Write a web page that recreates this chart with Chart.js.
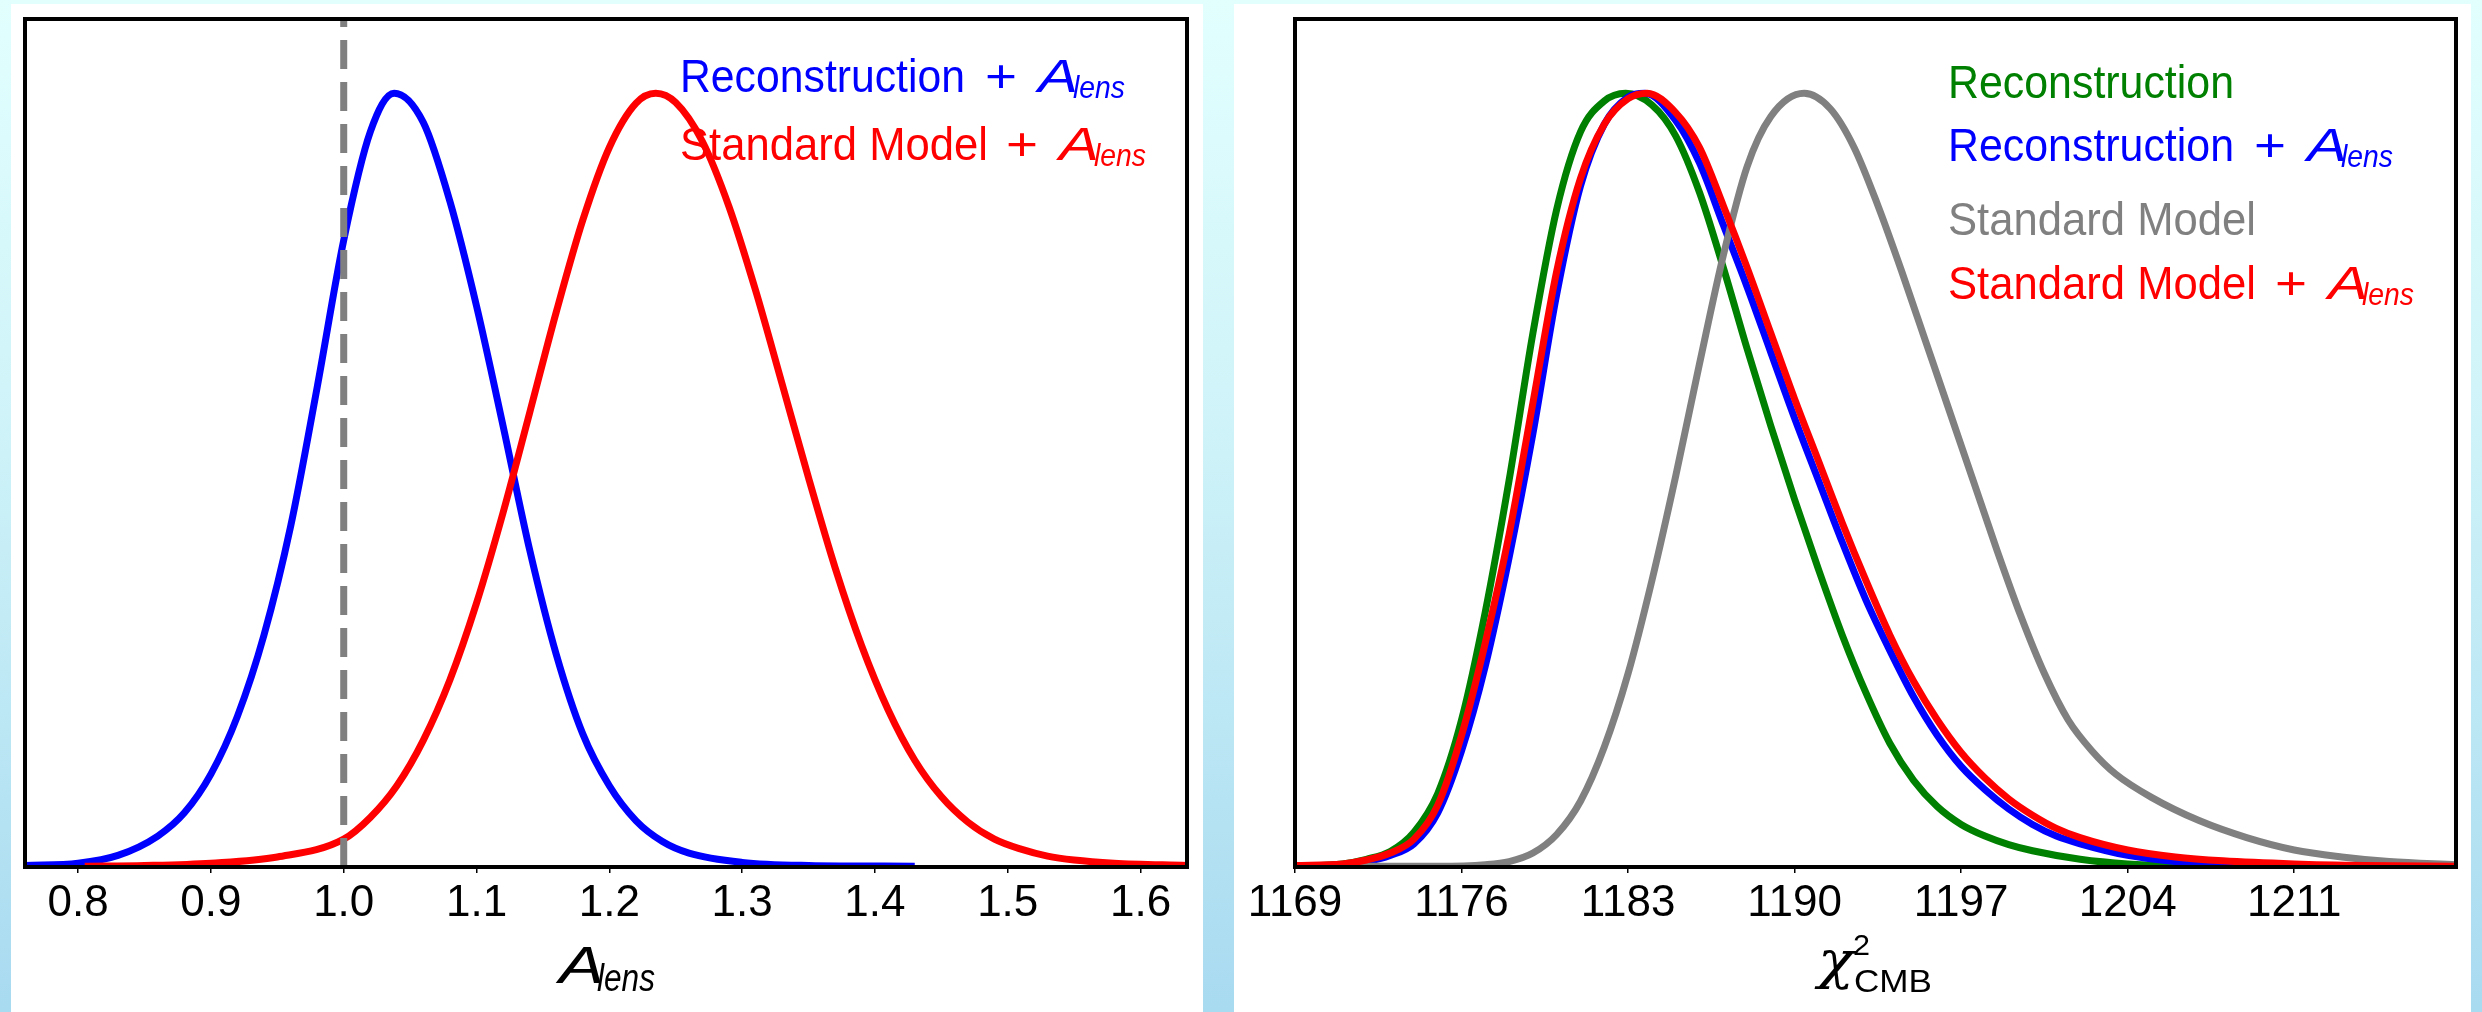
<!DOCTYPE html>
<html>
<head>
<meta charset="utf-8">
<script src="https://cdn.jsdelivr.net/npm/chart.js@4.4.1/dist/chart.umd.min.js"></script>
<style>
html, body { margin: 0; padding: 0; }
body {
    width: 2482px; height: 1012px; position: relative; overflow: hidden;
    background: linear-gradient(to bottom, #e2fffe 0%, #cdf2f8 45%, #a8daf0 100%);
}
.panel { position: absolute; top: 4px; height: 1008px; background: #fff; }
#left-panel { left: 11px; width: 1192px; }
#right-panel { left: 1234px; width: 1237px; }
canvas { display: block; }
</style>
</head>
<body>
<div class="panel" id="left-panel"><canvas id="left-chart" width="1192" height="1008"></canvas></div>
<div class="panel" id="right-panel"><canvas id="right-chart" width="1237" height="1008"></canvas></div>
<script>
// ---- left panel: A_lens posteriors ----
const leftTicks = [0.8, 0.9, 1.0, 1.1, 1.2, 1.3, 1.4, 1.5, 1.6];
const leftTickLabels = ['0.8', '0.9', '1.0', '1.1', '1.2', '1.3', '1.4', '1.5', '1.6'];
const leftRange = [0.76, 1.635];
const refLineX = 1.0;

const reconALensX = [0.76, 0.80, 0.83, 0.86, 0.88, 0.90, 0.92, 0.94, 0.96, 0.98, 1.00, 1.02, 1.038, 1.06, 1.08, 1.10, 1.12, 1.14, 1.16, 1.18, 1.20, 1.22, 1.24, 1.26, 1.30, 1.35, 1.43];
const reconALensY = [0.002, 0.005, 0.015, 0.040, 0.070, 0.120, 0.195, 0.300, 0.440, 0.620, 0.810, 0.950, 1.000, 0.962, 0.860, 0.725, 0.570, 0.410, 0.275, 0.172, 0.105, 0.060, 0.033, 0.018, 0.006, 0.002, 0.001];

const stdALensX = [0.805, 0.85, 0.90, 0.95, 1.00, 1.02, 1.04, 1.06, 1.08, 1.10, 1.12, 1.14, 1.16, 1.18, 1.20, 1.22, 1.235, 1.25, 1.27, 1.29, 1.31, 1.33, 1.35, 1.37, 1.39, 1.41, 1.43, 1.45, 1.47, 1.49, 1.51, 1.53, 1.55, 1.58, 1.635];
const stdALensY = [0.001, 0.002, 0.005, 0.013, 0.036, 0.064, 0.105, 0.164, 0.242, 0.341, 0.458, 0.587, 0.717, 0.836, 0.930, 0.987, 1.000, 0.988, 0.938, 0.854, 0.746, 0.625, 0.503, 0.387, 0.286, 0.203, 0.138, 0.091, 0.058, 0.036, 0.023, 0.014, 0.009, 0.005, 0.002];

// ---- right panel: chi^2_CMB posteriors ----
const rightTicks = [1169, 1176, 1183, 1190, 1197, 1204, 1211];
const rightTickLabels = ['1169', '1176', '1183', '1190', '1197', '1204', '1211'];
const rightRange = [1169, 1217.8];

const reconX = [1169, 1171, 1172, 1173, 1174, 1175, 1176, 1177, 1178, 1179, 1180, 1181, 1182, 1182.9, 1184, 1185, 1186, 1187, 1188, 1189, 1190, 1191, 1192, 1193, 1194, 1195, 1196, 1197, 1198, 1199, 1200, 1202, 1204, 1207];
const reconY = [0.001, 0.004, 0.010, 0.020, 0.045, 0.095, 0.190, 0.330, 0.500, 0.690, 0.850, 0.950, 0.990, 1.000, 0.985, 0.945, 0.872, 0.775, 0.670, 0.570, 0.475, 0.385, 0.300, 0.225, 0.160, 0.112, 0.078, 0.055, 0.040, 0.029, 0.021, 0.010, 0.004, 0.001];

const reconALensRX = [1169, 1171, 1172, 1173, 1174, 1175, 1176, 1177, 1178, 1179, 1180, 1181, 1182, 1183, 1183.7, 1185, 1186, 1187, 1188, 1189, 1190, 1191, 1192, 1193, 1194, 1195, 1196, 1197, 1198, 1199, 1200, 1201, 1202, 1204, 1206, 1208, 1212];
const reconALensRY = [0.001, 0.003, 0.007, 0.015, 0.030, 0.070, 0.150, 0.260, 0.400, 0.560, 0.740, 0.880, 0.960, 0.995, 1.000, 0.965, 0.910, 0.830, 0.750, 0.665, 0.580, 0.500, 0.420, 0.345, 0.280, 0.220, 0.170, 0.130, 0.100, 0.075, 0.055, 0.040, 0.030, 0.015, 0.007, 0.003, 0.001];

const stdX = [1169, 1175, 1177, 1178, 1179, 1180, 1181, 1182, 1183, 1184, 1185, 1186, 1187, 1188, 1189, 1190.4, 1191.5, 1192.5, 1193.5, 1194.5, 1195.5, 1196.5, 1197.5, 1198.5, 1199.5, 1200.5, 1201.5, 1202.5, 1203.5, 1205, 1207, 1209, 1211, 1213, 1215, 1217.8];
const stdY = [0.001, 0.001, 0.003, 0.007, 0.018, 0.042, 0.085, 0.155, 0.250, 0.370, 0.505, 0.650, 0.790, 0.905, 0.970, 1.000, 0.980, 0.930, 0.855, 0.770, 0.680, 0.590, 0.500, 0.410, 0.325, 0.250, 0.190, 0.150, 0.120, 0.090, 0.060, 0.038, 0.022, 0.013, 0.007, 0.003];

const stdALensRX = [1169, 1171, 1172, 1173, 1174, 1175, 1176, 1177, 1178, 1179, 1180, 1181, 1182, 1183, 1183.8, 1185, 1186, 1187, 1188, 1189, 1190, 1191, 1192, 1193, 1194, 1195, 1196, 1197, 1198, 1199, 1200, 1201, 1202, 1204, 1206, 1208, 1211, 1214, 1217.8];
const stdALensRY = [0.002, 0.004, 0.009, 0.018, 0.036, 0.080, 0.170, 0.290, 0.430, 0.600, 0.770, 0.890, 0.960, 0.993, 1.000, 0.975, 0.930, 0.855, 0.775, 0.690, 0.605, 0.525, 0.445, 0.370, 0.300, 0.240, 0.190, 0.148, 0.115, 0.088, 0.067, 0.050, 0.038, 0.022, 0.013, 0.008, 0.004, 0.002, 0.001];

const yTop = 1.096;

const BLUE = '#0000ff', RED = '#ff0000', GREEN = '#008000', GREY = '#808080';
const SANS = '"Liberation Sans", Arial, sans-serif';
const SERIF = '"DejaVu Serif", "Liberation Serif", serif';

function pts(xs, ys) {
    return xs.map(function (x, i) { return { x: x, y: ys[i] }; });
}

function curve(xs, ys, color, order) {
    return {
        data: pts(xs, ys),
        borderColor: color,
        borderWidth: 7,
        pointRadius: 0,
        fill: false,
        cubicInterpolationMode: 'monotone',
        order: order
    };
}

// draw a piece of text squeezed/stretched to a given width (the plot font is a narrow TeX sans)
function putText(ctx, r, offX, offY) {
    ctx.save();
    ctx.font = r.font;
    ctx.fillStyle = r.color;
    ctx.textBaseline = 'alphabetic';
    ctx.textAlign = 'left';
    const natural = ctx.measureText(r.t).width;
    ctx.translate(r.x - offX, r.y - offY);
    ctx.scale(r.w / natural, 1);
    ctx.fillText(r.t, 0, 0);
    ctx.restore();
}

function textPlugin(runs, offX, offY) {
    return {
        id: 'texts',
        afterDraw(chart) {
            runs.forEach(function (r) { putText(chart.ctx, r, offX, offY); });
        }
    };
}

const framePlugin = {
    id: 'frame',
    afterDatasetsDraw(chart) {
        const ctx = chart.ctx, a = chart.chartArea;
        ctx.save();
        ctx.strokeStyle = '#000';
        ctx.lineWidth = 4;
        ctx.strokeRect(a.left, a.top, a.right - a.left, a.bottom - a.top);
        ctx.restore();
    }
};

function xAxis(range, ticks, labels) {
    return {
        type: 'linear',
        min: range[0],
        max: range[1],
        afterBuildTicks: function (s) { s.ticks = ticks.map(function (v) { return { value: v }; }); },
        afterFit: function (s) { s.height = 145; },
        grid: { display: true, drawOnChartArea: false, drawTicks: true, tickLength: 6, color: '#000', lineWidth: 1.5 },
        border: { display: false },
        ticks: {
            font: { family: SANS, size: 44 },
            color: '#000',
            padding: 4,
            maxRotation: 0,
            autoSkip: false,
            callback: function (v, i) { return labels[i]; }
        }
    };
}

function baseOptions(range, ticks, labels, padding) {
    return {
        responsive: false,
        animation: false,
        layout: { padding: padding },
        plugins: { legend: { display: false }, tooltip: { enabled: false } },
        scales: {
            x: xAxis(range, ticks, labels),
            y: { display: false, min: 0, max: yTop }
        }
    };
}

// label runs, page coordinates
const leftTexts = [
    { t: 'Reconstruction', x: 680, y: 92, w: 285, font: '46px ' + SANS, color: BLUE },
    { t: '+', x: 985, y: 92, w: 32, font: '46px ' + SANS, color: BLUE },
    { t: 'A', x: 1038, y: 92, w: 40, font: 'italic 46px ' + SANS, color: BLUE },
    { t: 'lens', x: 1073, y: 98, w: 52, font: 'italic 32px ' + SANS, color: BLUE },
    { t: 'Standard Model', x: 680, y: 160, w: 308, font: '46px ' + SANS, color: RED },
    { t: '+', x: 1006, y: 160, w: 32, font: '46px ' + SANS, color: RED },
    { t: 'A', x: 1059, y: 160, w: 40, font: 'italic 46px ' + SANS, color: RED },
    { t: 'lens', x: 1094, y: 166, w: 52, font: 'italic 32px ' + SANS, color: RED },
    { t: 'A', x: 559, y: 983, w: 45, font: 'italic 52px ' + SANS, color: '#000' },
    { t: 'lens', x: 597, y: 991, w: 58, font: 'italic 38px ' + SANS, color: '#000' }
];

const rightTexts = [
    { t: 'Reconstruction', x: 1948, y: 98, w: 286, font: '46px ' + SANS, color: GREEN },
    { t: 'Reconstruction', x: 1948, y: 161, w: 286, font: '46px ' + SANS, color: BLUE },
    { t: '+', x: 2254, y: 161, w: 32, font: '46px ' + SANS, color: BLUE },
    { t: 'A', x: 2307, y: 161, w: 40, font: 'italic 46px ' + SANS, color: BLUE },
    { t: 'lens', x: 2341, y: 167, w: 52, font: 'italic 32px ' + SANS, color: BLUE },
    { t: 'Standard Model', x: 1948, y: 235, w: 308, font: '46px ' + SANS, color: GREY },
    { t: 'Standard Model', x: 1948, y: 299, w: 308, font: '46px ' + SANS, color: RED },
    { t: '+', x: 2275, y: 299, w: 32, font: '46px ' + SANS, color: RED },
    { t: 'A', x: 2328, y: 299, w: 40, font: 'italic 46px ' + SANS, color: RED },
    { t: 'lens', x: 2362, y: 305, w: 52, font: 'italic 32px ' + SANS, color: RED },
    { t: '\u03c7', x: 1818, y: 978, w: 36, font: 'italic 52px ' + SERIF, color: '#000' },
    { t: '2', x: 1853, y: 955, w: 17, font: '30px ' + SANS, color: '#000' },
    { t: 'CMB', x: 1854, y: 992, w: 78, font: '31px ' + SANS, color: '#000' }
];

new Chart(document.getElementById('left-chart'), {
    type: 'line',
    data: {
        datasets: [
            Object.assign(curve([refLineX, refLineX], [0, yTop], GREY, 0), { borderDash: [29, 13], cubicInterpolationMode: 'default' }),
            curve(stdALensX, stdALensY, RED, 1),
            curve(reconALensX, reconALensY, BLUE, 2)
        ]
    },
    options: baseOptions(leftRange, leftTicks, leftTickLabels, { left: 14, right: 16, top: 15, bottom: 0 }),
    plugins: [framePlugin, textPlugin(leftTexts, 11, 4)]
});

new Chart(document.getElementById('right-chart'), {
    type: 'line',
    data: {
        datasets: [
            curve(stdALensRX, stdALensRY, RED, 1),
            curve(stdX, stdY, GREY, 2),
            curve(reconALensRX, reconALensRY, BLUE, 3),
            curve(reconX, reconY, GREEN, 4)
        ]
    },
    options: baseOptions(rightRange, rightTicks, rightTickLabels, { left: 61, right: 15, top: 15, bottom: 0 }),
    plugins: [framePlugin, textPlugin(rightTexts, 1234, 4)]
});
</script>
</body>
</html>
